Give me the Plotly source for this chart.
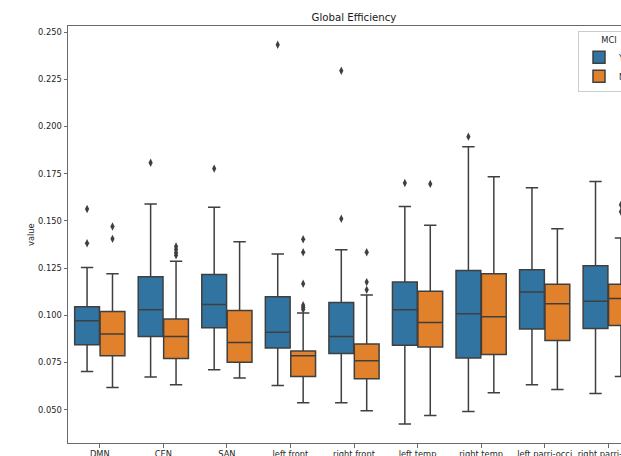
import plotly.graph_objects as go

categories = ["DMN", "CEN", "SAN", "left front", "right front", "left temp",
              "right temp", "left parri-occi", "right parri-occi"]
groups = ["Yes", "No"]

yes_lower = [0.0703, 0.0673, 0.0712, 0.0629, 0.0537, 0.0424, 0.0491, 0.0632, 0.0586]
yes_q1 = [0.0844, 0.0888, 0.0934, 0.0827, 0.0798, 0.0842, 0.0774, 0.0927, 0.0930]
yes_median = [0.0971, 0.1029, 0.1057, 0.0911, 0.0888, 0.1029, 0.1008, 0.1124, 0.1075]
yes_q3 = [0.1045, 0.1204, 0.1216, 0.1099, 0.1068, 0.1177, 0.1237, 0.1241, 0.1263]
yes_upper = [0.1253, 0.1590, 0.1572, 0.1325, 0.1347, 0.1576, 0.1893, 0.1676, 0.1708]
yes_outliers = [[0.1382, 0.1563], [0.1808], [0.1777], [0.2433], [0.1511, 0.2295],
                [0.1701], [0.1946], [], []]

no_lower = [0.0618, 0.0632, 0.0668, 0.0537, 0.0495, 0.0470, 0.0590, 0.0607, 0.0676]
no_q1 = [0.0786, 0.0771, 0.0752, 0.0676, 0.0664, 0.0832, 0.0793, 0.0867, 0.0946]
no_median = [0.0901, 0.0888, 0.0856, 0.0786, 0.0759, 0.0962, 0.0992, 0.1061, 0.1089]
no_q3 = [0.1020, 0.0981, 0.1025, 0.0811, 0.0848, 0.1128, 0.1220, 0.1165, 0.1165]
no_upper = [0.1220, 0.1287, 0.1390, 0.1013, 0.1107, 0.1477, 0.1734, 0.1459, 0.1410]
no_outliers = [[0.1405, 0.1470], [0.1318, 0.1332, 0.1348, 0.1365], [],
               [0.1031, 0.1043, 0.1054, 0.1167, 0.1334, 0.1403],
               [0.1135, 0.1176, 0.1334], [0.1696], [], [], [0.1549, 0.1585]]

y_ticks = [0.050, 0.075, 0.100, 0.125, 0.150, 0.175, 0.200, 0.225, 0.250]

BLUE = "#3274a1"
ORANGE = "#e1812c"
GRAY = "#3f3f3f"
FONT = "DejaVu Sans"

# The full figure is wider than the window so that, as in the reference,
# its right side (last group, legend) is cut off by the window edge.
W, H = 680, 456
ML, MR, MT, MB = 68, 40, 26, 13
PW = W - ML - MR
PH = H - MT - MB

fig = go.Figure()
series = [
    ("Yes", -0.2, BLUE, yes_lower, yes_q1, yes_median, yes_q3, yes_upper, yes_outliers),
    ("No", 0.2, ORANGE, no_lower, no_q1, no_median, no_q3, no_upper, no_outliers),
]
for name, off, color, lo, q1, med, q3, hi, outs in series:
    xs = [i + off for i in range(len(categories))]
    fig.add_trace(go.Box(
        name=name, x=xs, lowerfence=lo, q1=q1, median=med, q3=q3, upperfence=hi,
        width=0.39, whiskerwidth=0.5, fillcolor=color,
        line=dict(color=GRAY, width=1.5), boxpoints=False,
        hoverinfo="skip",
    ))
    ox, oy = [], []
    for i, vals in enumerate(outs):
        for v in vals:
            ox.append(i + off)
            oy.append(v)
    fig.add_trace(go.Scatter(
        x=ox, y=oy, mode="markers", showlegend=False,
        marker=dict(symbol="diamond-tall", size=6, color=GRAY),
        hoverinfo="skip",
    ))

fig.update_layout(
    width=W, height=H,
    margin=dict(l=ML, r=MR, t=MT, b=MB, autoexpand=False),
    paper_bgcolor="white", plot_bgcolor="white",
    boxmode="overlay",
    font=dict(family=FONT, size=8.3, color="#262626"),
    title=dict(text="Global Efficiency", x=0.5, xref="paper", xanchor="center",
               y=1 - 17 / H, yref="container", yanchor="middle",
               font=dict(size=10.2, color="#1a1a1a", family=FONT)),
    xaxis=dict(
        range=[-0.5, 8.5], tickmode="array",
        tickvals=list(range(len(categories))), ticktext=categories,
        showline=True, linecolor="#6a6a6a", linewidth=1, mirror=True,
        ticks="outside", ticklen=3.5, tickcolor="#6a6a6a",
        showgrid=False, zeroline=False, automargin=False,
        tickfont=dict(size=8.3, family=FONT, color="#262626"),
    ),
    yaxis=dict(
        range=[0.0324, 0.2532], tickmode="array", tickvals=y_ticks,
        ticktext=[f"{v:.3f}" for v in y_ticks],
        showline=True, linecolor="#6a6a6a", linewidth=1, mirror=True,
        ticks="outside", ticklen=3.5, tickcolor="#6a6a6a",
        showgrid=False, zeroline=False, automargin=False,
        tickfont=dict(size=8.3, family=FONT, color="#262626"),
    ),
    legend=dict(
        x=(578 - ML) / PW, y=(PH + MT - 31) / PH, xanchor="left", yanchor="top",
        bordercolor="#cccccc", borderwidth=1, bgcolor="rgba(255,255,255,0.8)",
        title=dict(text="MCI", side="top center", font=dict(size=8.3, family=FONT)),
        font=dict(size=8.3, family=FONT), itemwidth=30, tracegroupgap=0,
    ),
    annotations=[dict(
        text="value", x=(31 - ML) / PW, y=(PH + MT - 235) / PH,
        xref="paper", yref="paper", showarrow=False, xanchor="center", yanchor="middle",
        textangle=-90, font=dict(size=8.3, family=FONT, color="#262626"),
    )],
)

fig.write_html(
    "out.html",
    config={"displayModeBar": False},
    post_script="document.body.style.margin='0';document.body.style.overflow='hidden';",
)
